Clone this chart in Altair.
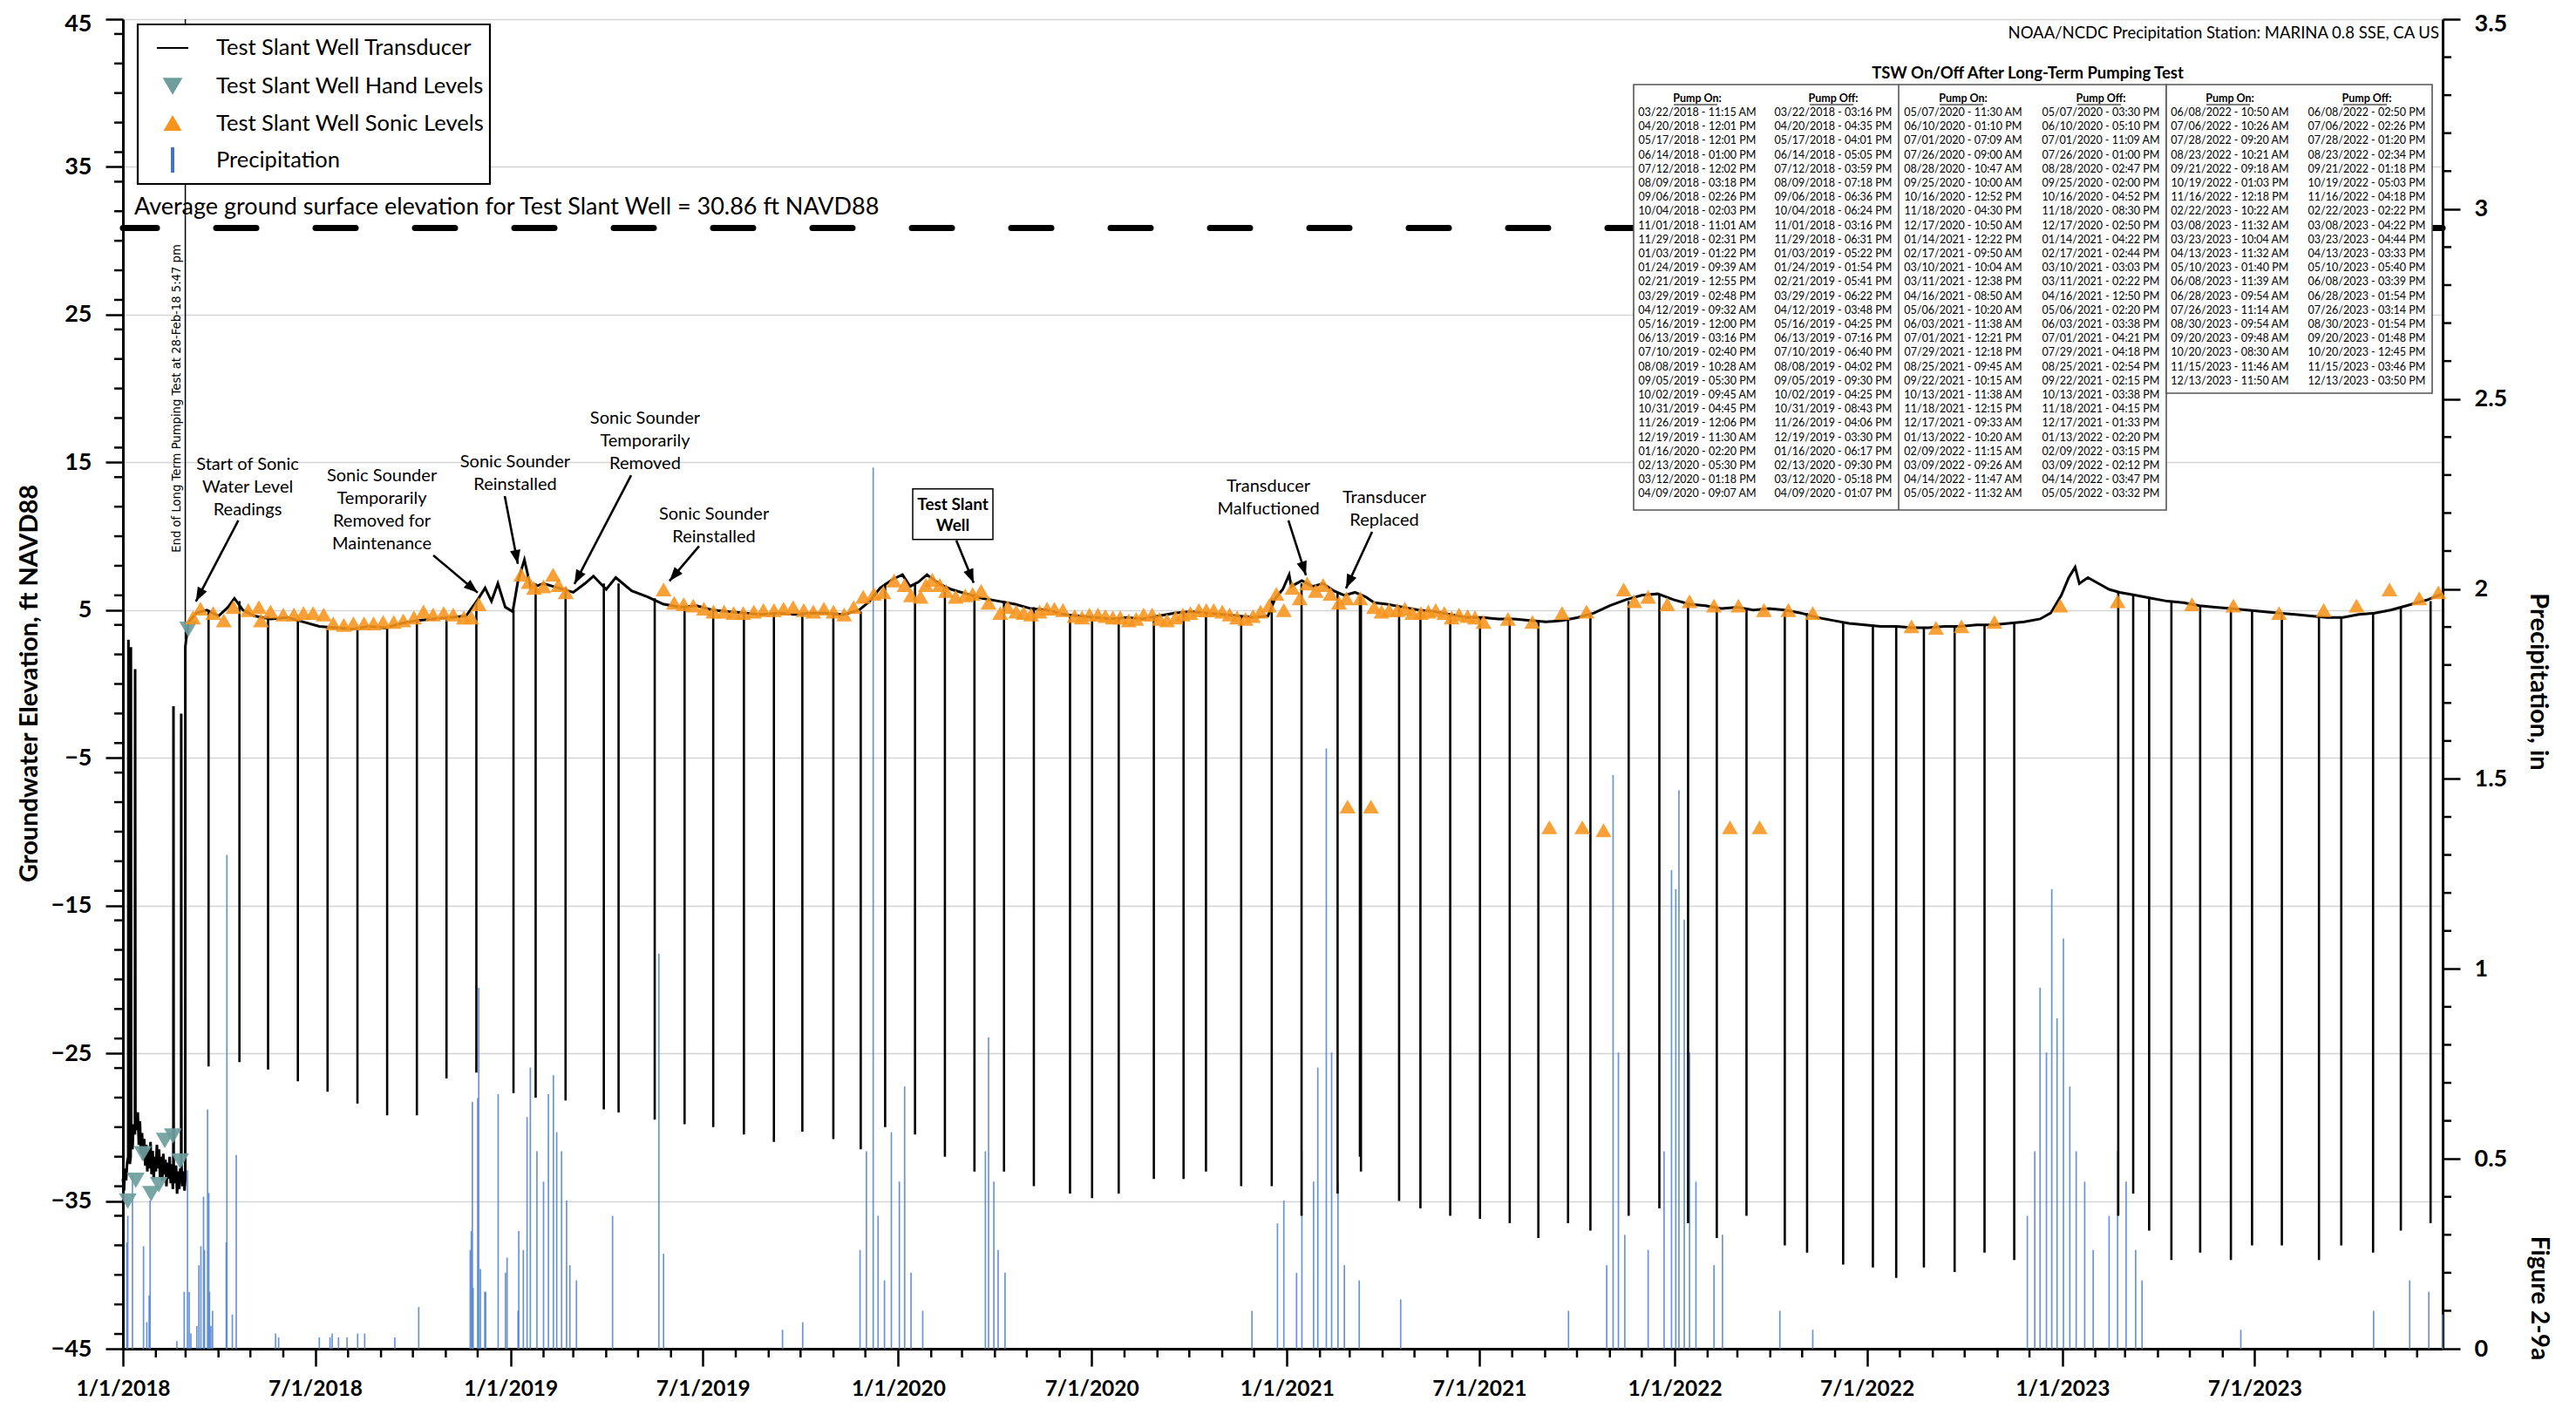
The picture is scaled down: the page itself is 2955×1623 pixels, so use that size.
import math
import altair as alt
import pandas as pd

ORIGIN = pd.Timestamp("2018-01-01")
END_DAY = 2184  # right edge of the date axis (days after 1/1/2018)

# ---------------- data ----------------
# Test Slant Well transducer: (days after 1/1/2018, ft NAVD88)
transducer = [
    (0, -33.5), (1, -34.3), (2, -32.8), (3, -33.6), (4, -32.4), (5.0, -32.0), (5.2, 3.0), (5.5, -31.0),
    (6.5, -32.5), (7.3, -32.0), (7.5, 2.5), (7.8, -30.8), (9, -31.5), (10, -29.8), (11.3, -30.5),
    (11.5, 1.0), (11.8, -29.5), (13, -30.2), (14, -29.0), (15, -31.2), (16, -29.6), (17, -31.8),
    (18, -30.4), (19, -32.2), (20, -30.8), (21, -32.6), (22, -31.2), (23, -33.0), (24, -31.5),
    (25, -32.8), (26, -31.0), (27, -33.2), (28, -31.6), (29, -33.5), (30, -32.0), (31, -33.0),
    (32, -31.2), (33, -32.8), (34, -31.5), (35, -33.4), (36, -32.0), (37, -33.6), (38, -31.8),
    (39, -33.2), (40, -32.2), (41, -34.0), (42, -32.4), (43, -33.5), (44, -32.0), (45, -33.8),
    (46, -32.5), (47, -34.2), (47.5, -33.0), (47.6, -1.5), (47.8, -32.5), (49, -33.8), (50, -32.6),
    (51, -34.5), (52, -33.0), (53, -34.2), (54, -32.8), (54.8, -33.5), (54.9, -2.0), (55.1, -32.5),
    (56, -34.0), (57, -33.0), (58, -34.3), (58.7, -33.5), (58.75, 2.5), (59.5, 3.0),
    (62, 4.2), (69, 4.8), (79, 5.0), (90, 4.6), (99, 5.2), (105, 5.8), (113, 5.0), (124, 4.6),
    (139, 4.4), (155, 4.5), (170, 4.2), (185, 3.9), (200, 3.8), (216, 3.7), (231, 3.9), (247, 3.8),
    (262, 4.1), (277, 4.3), (292, 4.4), (308, 4.5), (323, 4.6), (334, 5.7), (341, 6.5), (347, 5.6),
    (353, 6.8), (360, 5.2), (367, 4.9), (372, 7.0), (378, 8.4), (384, 6.5), (396, 6.8), (410, 6.5),
    (424, 6.2), (435, 6.8), (443, 7.3), (455, 6.4), (464, 7.2), (479, 6.3), (494, 5.9), (509, 5.4),
    (525, 5.2), (540, 5.3), (555, 5.0), (570, 4.9), (586, 4.8), (601, 4.7), (617, 4.8), (632, 4.7),
    (647, 4.8), (662, 4.8), (678, 4.7), (693, 5.0), (703, 5.6), (713, 6.5), (725, 7.1), (734, 7.4),
    (741, 6.6), (749, 6.9), (757, 7.4), (768, 6.8), (780, 6.4), (794, 6.1), (809, 5.8), (825, 5.6),
    (840, 5.4), (855, 5.1), (870, 5.0), (886, 4.7), (900, 4.6), (915, 4.5), (930, 4.4), (945, 4.5),
    (960, 4.4), (975, 4.6), (990, 4.8), (1005, 4.9), (1020, 4.8), (1035, 4.7), (1050, 4.6),
    (1065, 4.5), (1078, 4.6), (1085, 5.8), (1092, 6.4), (1098, 7.4), (1100, 6.6), (1110, 7.0),
    (1120, 6.6), (1130, 6.8), (1140, 6.3), (1150, 6.0), (1160, 6.2), (1170, 5.9), (1178, 5.5),
    (1190, 5.4), (1205, 5.2), (1220, 5.0), (1235, 4.9), (1250, 4.7), (1265, 4.5), (1280, 4.5),
    (1295, 4.4), (1310, 4.4), (1325, 4.3), (1340, 4.2), (1355, 4.3), (1370, 4.5), (1385, 4.8),
    (1400, 5.3), (1415, 5.7), (1430, 6.0), (1445, 6.1), (1460, 5.7), (1475, 5.4), (1490, 5.3),
    (1505, 5.1), (1520, 5.2), (1535, 5.0), (1550, 5.1), (1565, 5.0), (1580, 4.8), (1595, 4.5),
    (1610, 4.3), (1625, 4.1), (1640, 4.0), (1655, 3.9), (1670, 3.9), (1685, 3.8), (1700, 3.8),
    (1715, 3.9), (1730, 3.9), (1745, 4.0), (1760, 4.0), (1775, 4.1), (1790, 4.2), (1805, 4.4),
    (1815, 4.8), (1825, 6.0), (1832, 7.2), (1838, 7.9), (1842, 6.8), (1850, 7.2), (1860, 6.8),
    (1870, 6.4), (1880, 6.2), (1895, 6.0), (1910, 5.8), (1925, 5.6), (1940, 5.5), (1955, 5.3),
    (1970, 5.2), (1985, 5.1), (2000, 5.0), (2015, 4.9), (2030, 4.8), (2045, 4.7), (2060, 4.6),
    (2075, 4.5), (2090, 4.5), (2105, 4.7), (2120, 4.8), (2135, 5.0), (2150, 5.3), (2160, 5.5),
    (2170, 5.7), (2180, 6.0), (2184, 6.1),
]

# Hand levels (days, ft)
hand_levels = [(4.6, -35.0), (12.1, -33.6), (18.7, -31.8), (26.6, -34.5), (33.8, -33.9),
               (39.4, -30.9), (47.0, -30.6), (53.9, -32.3), (61.5, 3.7)]

# Sonic levels (days, ft)
sonic_levels = [
    (66, 4.5), (73, 5.1), (85, 4.8), (95, 4.3), (104, 5.2), (118, 5.0), (128, 5.2), (130, 4.3),
    (139, 4.9), (151, 4.7), (161, 4.7), (170, 4.8), (179, 4.8), (189, 4.7), (198, 4.1), (208, 4.0),
    (217, 4.1), (227, 4.1), (236, 4.1), (245, 4.2), (255, 4.2), (264, 4.3), (274, 4.5), (283, 4.9),
    (292, 4.7), (302, 4.8), (311, 4.7), (321, 4.5), (328, 4.5), (335, 5.4),
    (375, 7.4), (382, 6.9), (387, 6.5), (396, 6.6), (405, 7.4), (410, 6.7), (417, 6.2),
    (509, 6.4), (519, 5.5), (528, 5.4), (537, 5.3), (547, 5.1), (556, 4.9), (566, 4.9), (575, 4.8),
    (584, 4.8), (594, 4.9), (603, 5.0), (613, 5.0), (622, 5.1), (631, 5.2), (641, 5.0), (650, 4.9),
    (660, 5.1), (669, 4.9), (679, 4.7), (688, 5.2), (697, 5.9), (707, 6.1), (716, 6.2), (726, 7.0),
    (736, 6.7), (742, 6.0), (751, 5.9), (756, 6.7), (762, 7.05), (769, 6.7), (775, 6.3), (784, 5.9),
    (793, 6.0), (800, 6.1), (808, 6.3), (815, 5.5), (826, 4.8), (833, 5.2), (841, 4.9), (848, 4.8),
    (855, 4.7), (863, 4.9), (870, 5.1), (877, 5.1), (885, 5.0), (896, 4.6), (903, 4.5), (910, 4.7),
    (918, 4.7), (925, 4.6), (932, 4.5), (939, 4.5), (947, 4.3), (954, 4.4), (961, 4.7), (969, 4.7),
    (976, 4.4), (983, 4.3), (991, 4.5), (998, 4.7), (1005, 4.8), (1013, 5.0), (1020, 5.0),
    (1027, 5.0), (1035, 4.9), (1042, 4.7), (1049, 4.5), (1057, 4.4), (1064, 4.6), (1071, 4.9),
    (1079, 5.3), (1086, 6.1), (1093, 5.0), (1101, 6.5), (1108, 5.8), (1115, 6.8), (1123, 6.3),
    (1130, 6.7), (1137, 6.1), (1145, 5.5), (1152, 5.8), (1153, -8.3), (1165, 5.8), (1175, -8.3),
    (1178, 5.2), (1185, 4.9), (1192, 5.0), (1200, 5.0), (1207, 5.1), (1214, 4.8), (1222, 4.8),
    (1229, 4.9), (1236, 5.0), (1244, 4.8), (1251, 4.5), (1258, 4.7), (1266, 4.6), (1273, 4.5),
    (1281, 4.2), (1304, 4.4), (1327, 4.2), (1343, -9.7), (1355, 4.8), (1374, -9.7), (1378, 4.9),
    (1394, -9.9), (1413, 6.4), (1423, 5.6), (1436, 5.9), (1454, 5.4), (1475, 5.6), (1498, 5.3),
    (1513, -9.7), (1521, 5.3), (1541, -9.7), (1545, 5.0), (1568, 5.0), (1591, 4.8), (1684, 3.9),
    (1707, 3.8), (1731, 3.9), (1762, 4.2), (1824, 5.3), (1878, 5.6), (1948, 5.4), (1987, 5.3),
    (2030, 4.8), (2072, 5.0), (2103, 5.3), (2134, 6.4), (2162, 5.8), (2180, 6.2),
]

# Daily precipitation, NOAA/NCDC Marina 0.8 SSE (days, inches)
precipitation = [
    (3.7, 0.28), (4.6, 0.35), (9.0, 0.46), (19.4, 0.27), (22.5, 0.07), (24.7, 0.14), (25.6, 0.39),
    (50.8, 0.02), (57.7, 0.15), (60.8, 0.47), (62.4, 0.15), (64, 0.04), (69.6, 0.06), (71.5, 0.22),
    (73.4, 0.27), (75.9, 0.40), (76.8, 0.26), (79.7, 0.63), (80.9, 0.41), (81.5, 0.15), (82.8, 0.06),
    (84.4, 0.10), (97.3, 0.28), (97.9, 1.30), (103, 0.09), (106.7, 0.51), (143.7, 0.04), (146.6, 0.03),
    (184.9, 0.03), (195, 0.03), (197, 0.04), (203, 0.03), (211, 0.03), (221, 0.04), (227.6, 0.04),
    (256, 0.03), (278.5, 0.11), (327, 0.26), (328, 0.31), (329, 0.65), (329.7, 0.16), (334, 0.66),
    (335, 0.95), (336.6, 0.21), (340.7, 0.15), (341.6, 0.15), (353.3, 0.67), (360.2, 0.20),
    (361.7, 0.24), (372, 0.10), (372.7, 0.31), (377, 0.26), (380.5, 0.61), (383.6, 0.74),
    (389.8, 0.52), (396, 0.44), (400.6, 0.67), (405.3, 0.72), (408.4, 0.57), (413, 0.52),
    (417.7, 0.39), (420.8, 0.22), (427, 0.18), (461, 0.35), (504.6, 1.04), (509, 0.25), (621, 0.05),
    (640, 0.07), (694, 0.26), (700, 0.52), (706.4, 2.32), (711, 0.35), (717, 0.18), (723.5, 0.57),
    (731, 0.44), (736, 0.69), (742, 0.20), (753, 0.10), (812, 0.52), (815, 0.82), (820, 0.44),
    (824, 0.26), (830.5, 0.20), (1063, 0.10), (1087, 0.33), (1093, 0.39), (1105, 0.20), (1110, 0.52),
    (1121, 0.44), (1125, 0.74), (1133, 1.58), (1138, 0.78), (1144, 0.44), (1150, 0.22), (1164, 0.18),
    (1203, 0.13), (1361, 0.10), (1397, 0.22), (1403, 1.51), (1408, 0.78), (1414, 0.30), (1436, 0.26),
    (1451, 0.52), (1458, 1.26), (1462, 1.21), (1465, 1.47), (1470, 1.13), (1475, 0.78), (1481, 0.44),
    (1498, 0.22), (1506, 0.30), (1560, 0.10), (1591, 0.05), (1793, 0.35), (1800, 0.52), (1805, 0.95),
    (1811, 0.78), (1816, 1.21), (1821, 0.87), (1827, 1.08), (1833, 0.69), (1839, 0.52), (1847, 0.44),
    (1855, 0.26), (1870, 0.35), (1878, 0.52), (1886, 0.44), (1895, 0.26), (1901, 0.18), (1994, 0.05),
    (2119, 0.10), (2153, 0.18), (2171, 0.15), (2184, 0.09),
]

# TSW pump on / off after the long-term pumping test (table in the figure)
pump_on = [
    "03/22/2018 - 11:15 AM", "04/20/2018 - 12:01 PM", "05/17/2018 - 12:01 PM", "06/14/2018 - 01:00 PM",
    "07/12/2018 - 12:02 PM", "08/09/2018 - 03:18 PM", "09/06/2018 - 02:26 PM", "10/04/2018 - 02:03 PM",
    "11/01/2018 - 11:01 AM", "11/29/2018 - 02:31 PM", "01/03/2019 - 01:22 PM", "01/24/2019 - 09:39 AM",
    "02/21/2019 - 12:55 PM", "03/29/2019 - 02:48 PM", "04/12/2019 - 09:32 AM", "05/16/2019 - 12:00 PM",
    "06/13/2019 - 03:16 PM", "07/10/2019 - 02:40 PM", "08/08/2019 - 10:28 AM", "09/05/2019 - 05:30 PM",
    "10/02/2019 - 09:45 AM", "10/31/2019 - 04:45 PM", "11/26/2019 - 12:06 PM", "12/19/2019 - 11:30 AM",
    "01/16/2020 - 02:20 PM", "02/13/2020 - 05:30 PM", "03/12/2020 - 01:18 PM", "04/09/2020 - 09:07 AM",
    "05/07/2020 - 11:30 AM", "06/10/2020 - 01:10 PM", "07/01/2020 - 07:09 AM", "07/26/2020 - 09:00 AM",
    "08/28/2020 - 10:47 AM", "09/25/2020 - 10:00 AM", "10/16/2020 - 12:52 PM", "11/18/2020 - 04:30 PM",
    "12/17/2020 - 10:50 AM", "01/14/2021 - 12:22 PM", "02/17/2021 - 09:50 AM", "03/10/2021 - 10:04 AM",
    "03/11/2021 - 12:38 PM", "04/16/2021 - 08:50 AM", "05/06/2021 - 10:20 AM", "06/03/2021 - 11:38 AM",
    "07/01/2021 - 12:21 PM", "07/29/2021 - 12:18 PM", "08/25/2021 - 09:45 AM", "09/22/2021 - 10:15 AM",
    "10/13/2021 - 11:38 AM", "11/18/2021 - 12:15 PM", "12/17/2021 - 09:33 AM", "01/13/2022 - 10:20 AM",
    "02/09/2022 - 11:15 AM", "03/09/2022 - 09:26 AM", "04/14/2022 - 11:47 AM", "05/05/2022 - 11:32 AM",
    "06/08/2022 - 10:50 AM", "07/06/2022 - 10:26 AM", "07/28/2022 - 09:20 AM", "08/23/2022 - 10:21 AM",
    "09/21/2022 - 09:18 AM", "10/19/2022 - 01:03 PM", "11/16/2022 - 12:18 PM", "02/22/2023 - 10:22 AM",
    "03/08/2023 - 11:32 AM", "03/23/2023 - 10:04 AM", "04/13/2023 - 11:32 AM", "05/10/2023 - 01:40 PM",
    "06/08/2023 - 11:39 AM", "06/28/2023 - 09:54 AM", "07/26/2023 - 11:14 AM", "08/30/2023 - 09:54 AM",
    "09/20/2023 - 09:48 AM", "10/20/2023 - 08:30 AM", "11/15/2023 - 11:46 AM", "12/13/2023 - 11:50 AM",
]
pump_off = [
    "03/22/2018 - 03:16 PM", "04/20/2018 - 04:35 PM", "05/17/2018 - 04:01 PM", "06/14/2018 - 05:05 PM",
    "07/12/2018 - 03:59 PM", "08/09/2018 - 07:18 PM", "09/06/2018 - 06:36 PM", "10/04/2018 - 06:24 PM",
    "11/01/2018 - 03:16 PM", "11/29/2018 - 06:31 PM", "01/03/2019 - 05:22 PM", "01/24/2019 - 01:54 PM",
    "02/21/2019 - 05:41 PM", "03/29/2019 - 06:22 PM", "04/12/2019 - 03:48 PM", "05/16/2019 - 04:25 PM",
    "06/13/2019 - 07:16 PM", "07/10/2019 - 06:40 PM", "08/08/2019 - 04:02 PM", "09/05/2019 - 09:30 PM",
    "10/02/2019 - 04:25 PM", "10/31/2019 - 08:43 PM", "11/26/2019 - 04:06 PM", "12/19/2019 - 03:30 PM",
    "01/16/2020 - 06:17 PM", "02/13/2020 - 09:30 PM", "03/12/2020 - 05:18 PM", "04/09/2020 - 01:07 PM",
    "05/07/2020 - 03:30 PM", "06/10/2020 - 05:10 PM", "07/01/2020 - 11:09 AM", "07/26/2020 - 01:00 PM",
    "08/28/2020 - 02:47 PM", "09/25/2020 - 02:00 PM", "10/16/2020 - 04:52 PM", "11/18/2020 - 08:30 PM",
    "12/17/2020 - 02:50 PM", "01/14/2021 - 04:22 PM", "02/17/2021 - 02:44 PM", "03/10/2021 - 03:03 PM",
    "03/11/2021 - 02:22 PM", "04/16/2021 - 12:50 PM", "05/06/2021 - 02:20 PM", "06/03/2021 - 03:38 PM",
    "07/01/2021 - 04:21 PM", "07/29/2021 - 04:18 PM", "08/25/2021 - 02:54 PM", "09/22/2021 - 02:15 PM",
    "10/13/2021 - 03:38 PM", "11/18/2021 - 04:15 PM", "12/17/2021 - 01:33 PM", "01/13/2022 - 02:20 PM",
    "02/09/2022 - 03:15 PM", "03/09/2022 - 02:12 PM", "04/14/2022 - 03:47 PM", "05/05/2022 - 03:32 PM",
    "06/08/2022 - 02:50 PM", "07/06/2022 - 02:26 PM", "07/28/2022 - 01:20 PM", "08/23/2022 - 02:34 PM",
    "09/21/2022 - 01:18 PM", "10/19/2022 - 05:03 PM", "11/16/2022 - 04:18 PM", "02/22/2023 - 02:22 PM",
    "03/08/2023 - 04:22 PM", "03/23/2023 - 04:44 PM", "04/13/2023 - 03:33 PM", "05/10/2023 - 05:40 PM",
    "06/08/2023 - 03:39 PM", "06/28/2023 - 01:54 PM", "07/26/2023 - 03:14 PM", "08/30/2023 - 01:54 PM",
    "09/20/2023 - 01:48 PM", "10/20/2023 - 12:45 PM", "11/15/2023 - 03:46 PM", "12/13/2023 - 03:50 PM",
]
# water level just before each pumping event and the lowest level reached (ft NAVD88)
pump_top = [5.0, 5.6, 4.6, 4.4, 3.9, 3.8, 3.8, 4.3, 4.5, 5.5,
            5.0, 6.8, 6.5, 6.8, 6.8, 5.8, 5.2, 5.0, 4.8, 4.7, 4.8, 4.8, 4.9, 6.8,
            6.8, 6.6, 6.1, 5.6, 5.2, 4.7, 4.6, 4.5, 4.5, 4.8, 4.8, 4.6, 5.8,
            6.8, 6.2, 5.9, 5.9, 5.3, 5.0, 4.8, 4.5, 4.4, 4.3, 4.3, 4.8, 5.6, 6.0,
            5.4, 5.2, 5.0, 5.0, 4.8, 4.2, 4.0, 3.9, 3.8, 3.9, 4.0, 4.1,
            6.2, 6.0, 5.8, 5.6, 5.3, 5.1, 5.0, 4.8, 4.6, 4.5, 4.8, 5.2, 5.6]
pump_min = [-25.9, -25.6, -26.1, -26.9, -27.6, -28.4, -29.2, -29.2, -26.7, -26.3,
            -27.7, -28.0, -28.2, -28.8, -29.0, -29.5, -29.8, -30.0, -30.5, -31.0, -30.3, -30.8, -31.5, -30.0,
            -30.5, -32.0, -33.0, -33.0, -34.0, -34.5, -34.8, -34.5, -33.5, -33.5, -33.0, -34.0, -34.0,
            -36.0, -34.5, -32.0, -33.0, -35.0, -35.5, -36.0, -36.2, -36.5, -37.5, -36.5, -37.0, -36.0, -35.5,
            -36.5, -37.5, -36.0, -38.0, -38.5, -39.3, -39.5, -40.2, -39.5, -39.8, -38.5, -39.0,
            -36.0, -34.5, -37.0, -39.0, -38.5, -39.0, -38.0, -38.0, -39.0, -38.0, -38.5, -37.0, -36.5]

GROUND_ELEV = 30.86
END_OF_TEST = "2018-02-28 17:47"

# annotations: (text lines, centre day, first-line value, arrow start day, start value, arrow end day, end value)
annotations = [
    ("Start of Sonic\nWater Level\nReadings", 117.4, 14.9, 108.7, 11.07, 68.7, 5.59),
    ("Sonic Sounder\nTemporarily\nRemoved for\nMaintenance", 243.8, 14.14, 292.2, 8.71, 334.0, 6.18),
    ("Sonic Sounder\nReinstalled", 369.3, 15.08, 359.5, 12.72, 371.8, 8.13),
    ("Sonic Sounder\nTemporarily\nRemoved", 491.6, 18.08, 478.5, 14.13, 425.1, 6.77),
    ("Sonic Sounder\nReinstalled", 556.5, 11.55, 542.5, 9.33, 514.6, 6.97),
    ("Transducer\nMalfuctioned", 1078.5, 13.43, 1097.3, 11.07, 1113.8, 7.36),
    ("Transducer\nReplaced", 1187.6, 12.66, 1176.1, 10.30, 1151.5, 6.47),
]
well_label = ("Test Slant\nWell", 781.4, 12.13, 784.6, 9.72, 801.0, 6.84)
well_box = (743.6, 819.1, 13.2, 9.78)

# ---------------- geometry / style ----------------
PLOT_LEFT, PLOT_TOP = 141, 22        # page pixels of the plot's top-left corner
W, H = 2661, 1525
PX_DAY = W / END_DAY
PX_FT = H / 90.0
FONT = "Lato"
BLACK = "#000000"
ORANGE = "#F7941D"
TEAL = "#6E9E9C"
BLUE = "#4F83D1"


def day2ts(d):
    return ORIGIN + pd.Timedelta(days=d)


xs = alt.Scale(domain=[alt.DateTime(year=2018, month=1, date=1),
                       alt.DateTime(year=2023, month=12, date=25)], nice=False)
ys = alt.Scale(domain=[-45, 45], nice=False, zero=False)
ps = alt.Scale(domain=[0, 3.5], nice=False, zero=False)

xaxis = alt.Axis(values=[alt.DateTime(year=y, month=m, date=1) for y in range(2018, 2024) for m in (1, 7)],
                 format="%-m/%-d/%Y", title=None, tickSize=20, tickWidth=2.5, tickColor=BLACK,
                 domainColor=BLACK, domainWidth=3, labelFont=FONT, labelFontWeight="bold", labelFontSize=24.5,
                 labelColor=BLACK, labelPadding=14, grid=False, labelFlush=False, labelOverlap=False)
yaxis = alt.Axis(values=list(range(-45, 46, 10)), title=None, orient="left", tickSize=20, tickWidth=2.5,
                 tickColor=BLACK, domainColor=BLACK, domainWidth=3, labelFont=FONT, labelFontWeight="bold",
                 labelFontSize=27, labelColor=BLACK, labelPadding=16, grid=True, gridColor="#d4d4d4",
                 gridWidth=1.5, labelFlush=False, labelOverlap=False,
                 labelOffset={"condition": {"test": "datum.value == 45", "value": 5}, "value": 0})
paxis = alt.Axis(values=[0, 0.5, 1, 1.5, 2, 2.5, 3, 3.5], format="~g", title=None, orient="right",
                 tickSize=20, tickWidth=2.5, tickColor=BLACK, domainColor=BLACK, domainWidth=3,
                 labelFont=FONT, labelFontWeight="bold", labelFontSize=27, labelColor=BLACK,
                 labelPadding=16, grid=False, labelFlush=False, labelOverlap=False,
                 labelOffset={"condition": {"test": "datum.value == 3.5", "value": 5}, "value": 0})


def X(field="date"):
    return alt.X(f"{field}:T", scale=xs, axis=xaxis)


def Y(field="v"):
    return alt.Y(f"{field}:Q", scale=ys, axis=yaxis)


dummy = pd.DataFrame({"a": [0]})

# ---------------- frames ----------------
trans_df = pd.DataFrame({"date": [day2ts(d) for d, _ in transducer], "v": [v for _, v in transducer]})
hand_df = pd.DataFrame({"date": [day2ts(d) for d, _ in hand_levels], "v": [v for _, v in hand_levels]})
sonic_df = pd.DataFrame({"date": [day2ts(d) for d, _ in sonic_levels], "v": [v for _, v in sonic_levels]})
precip_df = pd.DataFrame({"date": [day2ts(d) for d, _ in precipitation], "p": [p for _, p in precipitation]})
spike_df = pd.DataFrame({"date": pd.to_datetime(pump_off, format="%m/%d/%Y - %I:%M %p"),
                         "v": pump_top, "v2": pump_min})

# ---------------- precipitation (right axis) ----------------
precip_bars = alt.Chart(precip_df).mark_rule(color=BLUE, strokeWidth=1.7, opacity=0.85).encode(
    x=X(), y=alt.Y("p:Q", scale=ps, axis=paxis), y2=alt.datum(0))
p_minor = pd.DataFrame({"p": [round(i * 0.1, 1) for i in range(36) if i % 5 != 0]})
precip_minor = alt.Chart(p_minor).mark_rule(color=BLACK, strokeWidth=2.5).encode(
    y=alt.Y("p:Q", scale=ps, axis=paxis), x=alt.value(W), x2=alt.value(W + 10))
right = alt.layer(precip_bars, precip_minor)

# ---------------- groundwater (left axis) ----------------
line = alt.Chart(trans_df).mark_line(color=BLACK, strokeWidth=3.0).encode(x=X(), y=Y())
spikes = alt.Chart(spike_df).mark_rule(color=BLACK, strokeWidth=2.6).encode(x=X(), y=Y(), y2="v2:Q")

end_df = pd.DataFrame({"date": [pd.Timestamp(END_OF_TEST)], "v": [45], "v2": [3.0]})
end_line = alt.Chart(end_df).mark_rule(color=BLACK, strokeWidth=1.5).encode(x=X(), y=Y(), y2="v2:Q")

ground_df = pd.DataFrame({"v": [GROUND_ELEV]})
ground = alt.Chart(ground_df).mark_rule(color=BLACK, strokeWidth=7, strokeDash=[46, 68],
                                        strokeCap="round").encode(y=Y())

hand = alt.Chart(hand_df).mark_point(shape="triangle-down", filled=True, size=420, color=TEAL,
                                     opacity=0.92).encode(x=X(), y=Y())
sonic = alt.Chart(sonic_df).mark_point(shape="triangle-up", filled=True, size=335, color=ORANGE,
                                       opacity=0.88).encode(x=X(), y=Y())

# minor ticks on the left and bottom axes
y_minor = pd.DataFrame({"v": list(range(-44, 45, 2))})
left_minor = alt.Chart(y_minor).mark_rule(color=BLACK, strokeWidth=2.5).encode(
    y=Y(), x=alt.value(-10), x2=alt.value(0))
months = [pd.Timestamp(year=y, month=m, day=1) for y in range(2018, 2024) for m in range(1, 13) if m not in (1, 7)]
x_minor = pd.DataFrame({"date": months})
bottom_minor = alt.Chart(x_minor).mark_rule(color=BLACK, strokeWidth=2.5).encode(
    x=X(), y=alt.value(H), y2=alt.value(H + 10))

# annotations with arrows
ann_layers = []
ARROW = "M0,0L0.75,2L-0.75,2Z"


def arrow_layers(sd, sv, ed, ev):
    df = pd.DataFrame({"date": [day2ts(sd)], "v": [sv], "date2": [day2ts(ed)], "v2": [ev]})
    shaft = alt.Chart(df).mark_rule(color=BLACK, strokeWidth=2.6).encode(x=X(), y=Y(), x2="date2:T", y2="v2:Q")
    dx = (ed - sd) * PX_DAY
    dy = -(ev - sv) * PX_FT
    ang = math.degrees(math.atan2(dx, -dy)) % 360
    hd = pd.DataFrame({"date": [day2ts(ed)], "v": [ev]})
    head = alt.Chart(hd).mark_point(shape=ARROW, filled=True, size=256, color=BLACK, opacity=1,
                                    angle=round(ang, 2)).encode(x=X(), y=Y())
    return [shaft, head]


for txt, cd, cv, sd, sv, ed, ev in annotations:
    tdf = pd.DataFrame({"date": [day2ts(cd)], "v": [cv + 0.51], "t": [txt]})
    ann_layers.append(alt.Chart(tdf).mark_text(font=FONT, fontSize=20, lineHeight=26, lineBreak="\n",
                                               align="center", baseline="top", color=BLACK).encode(
        x=X(), y=Y(), text="t:N"))
    ann_layers += arrow_layers(sd, sv, ed, ev)

bx = pd.DataFrame({"date": [day2ts(well_box[0])], "date2": [day2ts(well_box[1])],
                   "v": [well_box[2]], "v2": [well_box[3]]})
ann_layers.append(alt.Chart(bx).mark_rect(fill="white", stroke=BLACK, strokeWidth=1.5).encode(
    x=X(), x2="date2:T", y=Y(), y2="v2:Q"))
wt, wcd, wcv, wsd, wsv, wed, wev = well_label
wdf = pd.DataFrame({"date": [day2ts(wcd)], "v": [wcv + 0.5], "t": [wt]})
ann_layers.append(alt.Chart(wdf).mark_text(font=FONT, fontSize=19, fontWeight="bold", lineHeight=24,
                                           lineBreak="\n", align="center", baseline="top",
                                           color=BLACK).encode(x=X(), y=Y(), text="t:N"))
ann_layers += arrow_layers(wsd, wsv, wed, wev)


# ---------------- page-placed furniture (page pixel coordinates) ----------------
def px(fx):
    return alt.value(fx - PLOT_LEFT)


def py(fy):
    return alt.value(fy - PLOT_TOP)


def ptext(txt, fx, fy, size, weight="normal", align="left", baseline="middle", angle=0, font=FONT,
          line_height=None):
    kw = dict(font=font, fontSize=size, fontWeight=weight, align=align, baseline=baseline, color=BLACK)
    if angle:
        kw["angle"] = angle
    if line_height:
        kw["lineHeight"] = line_height
        kw["lineBreak"] = "\n"
    return alt.Chart(dummy).mark_text(**kw).encode(x=px(fx), y=py(fy), text=alt.value(txt))


def prect(x1, x2, y1, y2, stroke=BLACK, sw=2.0, fill="white"):
    return alt.Chart(dummy).mark_rect(fill=fill, stroke=stroke, strokeWidth=sw).encode(
        x=px(x1), x2=px(x2), y=py(y1), y2=py(y2))


def prule(x1, x2, y1, y2, color=BLACK, sw=1.5):
    return alt.Chart(dummy).mark_rule(color=color, strokeWidth=sw).encode(
        x=px(x1), x2=px(x2), y=py(y1), y2=py(y2))


def psym(shape, fx, fy, size, color):
    return alt.Chart(dummy).mark_point(shape=shape, filled=True, size=size, color=color, opacity=1).encode(
        x=px(fx), y=py(fy))


furniture = []
# legend
furniture += [prect(158, 562, 28, 211, sw=2.2),
              prule(180, 216, 55, 55, sw=2.2),
              psym("triangle-down", 198, 99, 520, TEAL),
              psym("triangle-up", 198, 141, 440, ORANGE),
              prule(198, 198, 169, 198, color="#4472C4", sw=4)]
for txt, yy in [("Test Slant Well Transducer", 55), ("Test Slant Well Hand Levels", 99),
                ("Test Slant Well Sonic Levels", 142), ("Precipitation", 184)]:
    furniture.append(ptext(txt, 248, yy, 25.5))

furniture.append(ptext("Average ground surface elevation for Test Slant Well = 30.86 ft NAVD88", 154, 238, 27))
furniture.append(ptext("End of Long Term Pumping Test at 28-Feb-18 5:47 pm", 203, 457, 13.2, align="center",
                       angle=270, font="DejaVu Sans"))
furniture.append(ptext("NOAA/NCDC Precipitation Station: MARINA 0.8 SSE, CA US", 2798, 38, 18.5, align="right"))

# axis titles
furniture.append(ptext("Groundwater Elevation, ft NAVD88", 34, 784, 29, weight="bold", align="center", angle=270))
furniture.append(ptext("Precipitation, in", 2912, 782, 29, weight="bold", align="center", angle=90))
furniture.append(ptext("Figure 2-9a", 2912, 1489, 28, weight="bold", align="center", angle=90))

# pump on/off table
furniture.append(ptext("TSW On/Off After Long-Term Pumping Test", 2326, 84, 18.5, weight="bold", align="center"))
furniture += [prect(1874, 2485, 97, 585, stroke="#555555", sw=1.6),
              prect(2485, 2790, 97, 451, stroke="#555555", sw=1.6),
              prule(2178, 2178, 97, 585, color="#555555", sw=1.6)]


def fmt(s):
    return s.replace(" - ", "  -  ")


sections = [(0, 28, 1947, 2103), (28, 56, 2252, 2410), (56, 76, 2558, 2715)]
for a, b, con, coff in sections:
    for cx, lab, lst in [(con, "Pump On:", pump_on), (coff, "Pump Off:", pump_off)]:
        furniture.append(ptext(lab, cx, 113, 12.5, weight="bold", align="center"))
        furniture.append(prule(cx - 27, cx + 23, 120, 120, sw=1))
        block = "\n".join(fmt(s) for s in lst[a:b])
        furniture.append(ptext(block, cx, 123, 12.5, align="center", baseline="top", line_height=16.2))

left = alt.layer(line, spikes, end_line, ground, hand, sonic, left_minor, bottom_minor,
                 *ann_layers, *furniture)

chart = alt.layer(right, left).resolve_scale(y="independent").properties(
    width=W, height=H,
    padding={"left": PLOT_LEFT - 8, "top": PLOT_TOP - 8, "right": 144, "bottom": 64},
    autosize=alt.AutoSizeParams(type="none"),
).configure_view(stroke=BLACK, strokeWidth=3).configure(font=FONT)

chart.save("out.html", embed_options={"renderer": "svg", "actions": False})
